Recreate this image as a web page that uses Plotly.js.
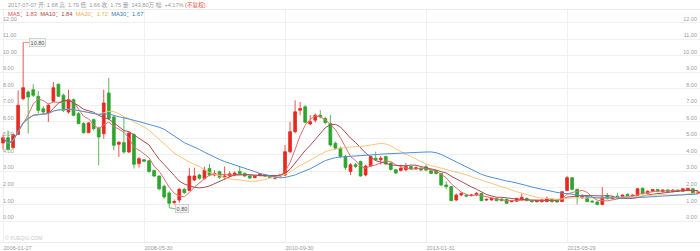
<!DOCTYPE html>
<html><head><meta charset="utf-8">
<script src="https://cdn.plot.ly/plotly-3.0.1.min.js"></script>
<style>html,body{margin:0;padding:0;background:#fff;overflow:hidden}#chart{width:700px;height:251px}</style>
</head><body><div id="chart"></div>
<script>
// monthly candles, 2006-01 .. 2017-07
const openP = [4.72,5.04,4.44,5.24,7.40,7.80,7.94,7.54,6.79,6.53,
7.24,8.27,7.60,6.59,7.34,6.49,5.89,5.34,6.13,5.63,
5.28,7.74,6.29,4.64,4.74,4.17,5.22,3.47,3.71,3.65,
3.05,2.72,2.10,1.70,1.12,1.27,1.92,1.85,2.48,2.78,
2.58,3.18,2.78,2.98,2.64,2.72,2.78,3.00,2.88,2.72,
2.62,2.75,2.80,2.72,2.58,2.70,2.78,4.19,5.40,6.70,
6.91,5.87,6.10,6.40,6.20,5.90,4.70,4.40,3.90,3.00,
3.40,3.60,2.78,3.32,3.80,3.70,3.90,3.50,3.10,3.05,
3.10,3.30,3.15,3.20,3.28,3.04,3.04,2.88,2.18,2.08,
1.27,1.57,1.57,1.55,1.57,1.66,1.27,1.27,1.37,1.33,
1.31,1.17,1.20,1.27,1.37,1.20,1.17,1.17,1.17,1.31,
1.27,1.17,1.85,2.62,1.92,1.40,1.45,1.20,1.15,1.00,
1.55,1.35,1.50,1.48,1.62,1.50,1.55,1.98,1.68,1.80,
1.90,1.78,1.88,1.78,1.87,1.80,1.87,1.95,1.68];
const highP = [5.24,5.48,5.28,7.90,10.80,7.90,8.27,7.86,6.94,7.10,
8.41,8.31,7.70,7.94,7.40,6.59,5.99,5.99,6.19,5.70,
7.94,8.65,6.39,4.82,6.29,5.38,5.32,3.87,3.75,3.70,
3.10,2.75,2.20,1.80,1.30,2.00,2.00,3.22,3.22,2.85,
3.28,3.45,3.08,3.05,3.30,3.00,3.00,3.28,2.95,2.78,
2.75,2.90,2.85,2.78,2.72,2.85,4.59,6.00,7.30,7.20,
7.00,6.40,6.50,6.70,6.30,6.40,4.80,4.50,4.00,3.50,
3.50,3.65,3.40,3.95,4.19,3.95,3.95,3.55,3.15,3.40,
3.50,3.35,3.30,3.25,3.40,3.10,3.10,2.90,2.38,2.10,
1.67,1.77,1.60,1.62,1.75,1.70,1.35,1.42,1.40,1.38,
1.35,1.27,1.40,1.67,1.42,1.25,1.27,1.30,1.47,1.35,
1.30,1.80,2.72,2.66,1.95,1.63,1.50,1.25,1.20,2.05,
1.70,1.50,1.70,1.60,1.66,1.60,2.00,2.02,1.85,1.92,
1.93,1.92,1.92,1.92,1.90,1.98,2.00,1.97,1.79];
const lowP = [4.31,4.27,4.35,5.20,7.30,5.28,7.50,6.49,6.49,5.99,
7.20,7.50,6.59,6.49,6.33,5.85,5.28,5.32,5.48,3.37,
4.98,6.10,4.27,3.87,4.07,4.11,3.17,3.23,3.57,2.90,
2.65,1.85,1.35,0.80,1.00,1.10,1.65,1.80,2.40,2.50,
2.50,2.70,2.70,2.55,2.55,2.65,2.70,2.80,2.65,2.55,
2.58,2.70,2.65,2.60,2.50,2.65,2.70,4.10,5.30,6.40,
5.90,5.80,5.95,6.20,5.85,4.50,4.30,3.80,3.10,2.78,
3.20,2.70,2.70,3.30,3.65,3.40,3.40,3.05,2.85,3.00,
3.00,3.10,3.10,3.00,3.00,2.85,2.80,2.10,1.92,1.20,
1.20,1.50,1.45,1.50,1.50,1.20,1.22,1.25,1.20,1.20,
1.02,1.12,1.15,1.25,1.20,1.13,1.12,1.12,1.15,1.12,
1.10,1.15,1.80,1.85,1.00,1.35,1.15,1.12,0.95,0.95,
1.30,1.32,1.38,1.45,1.48,1.47,1.50,1.60,1.62,1.75,
1.72,1.74,1.72,1.74,1.77,1.77,1.82,1.62,1.66];
const closeP = [5.04,4.33,5.22,7.00,8.06,7.50,7.60,6.69,6.59,7.00,
8.06,7.54,6.69,7.34,6.39,5.89,5.34,5.93,5.58,5.08,
7.14,6.19,4.58,4.76,4.17,5.32,3.43,3.77,3.61,3.00,
2.72,1.95,1.45,1.07,1.17,1.92,1.71,2.72,2.72,2.58,
3.08,2.78,2.88,2.64,2.72,2.85,2.90,2.85,2.72,2.60,
2.70,2.85,2.72,2.64,2.66,2.78,4.19,5.40,6.60,6.80,
5.97,6.00,6.40,6.30,5.95,4.60,4.40,3.90,3.24,3.40,
3.30,2.72,3.32,3.90,3.70,3.80,3.45,3.12,2.90,3.20,
3.30,3.15,3.22,3.08,3.08,2.88,2.88,2.18,2.08,1.23,
1.57,1.67,1.51,1.57,1.67,1.23,1.31,1.37,1.23,1.23,
1.07,1.23,1.37,1.43,1.23,1.17,1.23,1.27,1.37,1.17,
1.15,1.77,2.62,1.92,1.45,1.50,1.17,1.15,1.00,1.43,
1.35,1.45,1.42,1.57,1.53,1.56,1.95,1.65,1.80,1.90,
1.80,1.88,1.78,1.87,1.80,1.95,1.97,1.68,1.75];

const tickIndex = [0, 28, 56, 84, 112];
const tickLabels = ['2006-01-27', '2008-05-30', '2010-09-30', '2013-01-31', '2015-05-29'];
const priceTicks = [0,1,2,3,4,5,6,7,8,9,10,11,12];

const maPeriods = [5, 10, 20, 30];
const maNames = ['MA5', 'MA10', 'MA20', 'MA30'];
const maValues = ['1.83', '1.84', '1.72', '1.67'];
const maColors = ['#e0706b', '#a24e55', '#f7c67a', '#4f8fd6'];
const maTextColors = ['#d9534f', '#a94442', '#f0ad4e', '#337ab7'];

const headerDate = '2017-07-07';
const headerKeys = ['开', '高', '低', '收', '量', '幅'];
const headerVals = ['1.68', '1.79', '1.66', '1.75', '143.80万', '+4.17%'];
const headerNote = '(不复权)';

const hiLabel = {idx: 4, value: '10.80'};
const loLabel = {idx: 33, value: '0.80'};

const idx = closeP.map((_, i) => i);
function movingAvg(n) {
  return closeP.map((_, i) => {
    const s = Math.max(0, i - n + 1);
    let sum = 0;
    for (let k = s; k <= i; k++) sum += closeP[k];
    return sum / (i - s + 1);
  });
}

const UP = '#e8281f', DOWN = '#2ea52e';
const FONT = '"Liberation Sans", Arial, "Noto Sans CJK SC", sans-serif';

const traces = [{
  type: 'candlestick', x: idx, open: openP, high: highP, low: lowP, close: closeP,
  increasing: {line: {color: UP, width: 0.8}, fillcolor: UP},
  decreasing: {line: {color: DOWN, width: 0.8}, fillcolor: DOWN},
  whiskerwidth: 0, hoverinfo: 'skip', showlegend: false
}];
maPeriods.forEach((n, k) => {
  traces.push({
    type: 'scatter', mode: 'lines', x: idx, y: movingAvg(n),
    line: {color: maColors[k], width: 1}, hoverinfo: 'skip', showlegend: false,
    yaxis: k === 3 ? 'y2' : 'y'
  });
});

const yRange = [-1.27, 12.76];
const tickFont = {family: FONT, size: 5.5, color: '#9a9a9a'};

let header = headerDate + ' ';
headerKeys.forEach((k, i) => { header += k + ': ' + headerVals[i] + ' '; });
header += '<span style="color:#e74c3c">' + headerNote + '</span>';

let maText = maNames.map((m, k) =>
  '<span style="color:' + maTextColors[k] + '">' + m + '：' + maValues[k] + '</span>').join('  ');

const yCommon = {
  range: yRange, tickmode: 'array', tickvals: priceTicks, tickformat: '.2f',
  ticklabelposition: 'inside top', ticklabeloverflow: 'allow', ticks: '',
  zeroline: false, showline: false, tickfont: tickFont, fixedrange: true
};

const layout = {
  width: 700, height: 251,
  margin: {l: 0, r: 0, t: 10, b: 9, pad: 0},
  paper_bgcolor: '#fff', plot_bgcolor: '#fff',
  boxgap: 0.2,
  showlegend: false,
  font: {family: FONT},
  xaxis: {
    type: 'linear', range: [-0.6, 138.4],
    tickmode: 'array', tickvals: tickIndex, ticktext: tickLabels,
    ticklabelposition: 'outside right', ticklabeloverflow: 'allow', ticks: '',
    showgrid: true, gridcolor: '#f0f0f0', gridwidth: 1,
    zeroline: false, showline: true, linecolor: '#ececec', mirror: true,
    tickfont: tickFont, rangeslider: {visible: false}, fixedrange: true
  },
  yaxis: Object.assign({showgrid: true, gridcolor: '#f0f0f0'}, yCommon),
  yaxis2: Object.assign({overlaying: 'y', side: 'right', showgrid: false}, yCommon),
  annotations: [
    {xref: 'paper', yref: 'paper', x: 0.008, y: 1 + 5 / 232, xanchor: 'left', yanchor: 'middle',
     text: header, showarrow: false, font: {family: FONT, size: 5.6, color: '#999'}},
    {xref: 'paper', yref: 'paper', x: 0.008, y: 1 - 4 / 232, xanchor: 'left', yanchor: 'middle',
     text: maText, showarrow: false, font: {family: FONT, size: 5.8}, bgcolor: 'rgba(255,255,255,0)'},
    {xref: 'paper', yref: 'paper', x: 0.004, y: 4 / 232, xanchor: 'left', yanchor: 'middle',
     text: '© XUEQIU.COM', showarrow: false, font: {family: FONT, size: 5, color: '#c8c8c8'}},
    {x: hiLabel.idx, y: highP[hiLabel.idx], text: hiLabel.value, showarrow: true, arrowhead: 0,
     arrowwidth: 0.8, arrowcolor: '#e0706b', ax: 6, ay: 0, xanchor: 'left',
     bgcolor: '#f4f4f4', bordercolor: '#bbb', borderwidth: 0.6, borderpad: 1,
     font: {family: FONT, size: 5.5, color: '#555'}},
    {x: loLabel.idx, y: lowP[loLabel.idx], text: loLabel.value, showarrow: true, arrowhead: 0,
     arrowwidth: 0.8, arrowcolor: '#5aa55a', ax: 6, ay: 1, xanchor: 'left',
     bgcolor: '#f4f4f4', bordercolor: '#bbb', borderwidth: 0.6, borderpad: 1,
     font: {family: FONT, size: 5.5, color: '#555'}}
  ]
};

Plotly.newPlot('chart', traces, layout, {staticPlot: true, displayModeBar: false});
</script></body></html>
